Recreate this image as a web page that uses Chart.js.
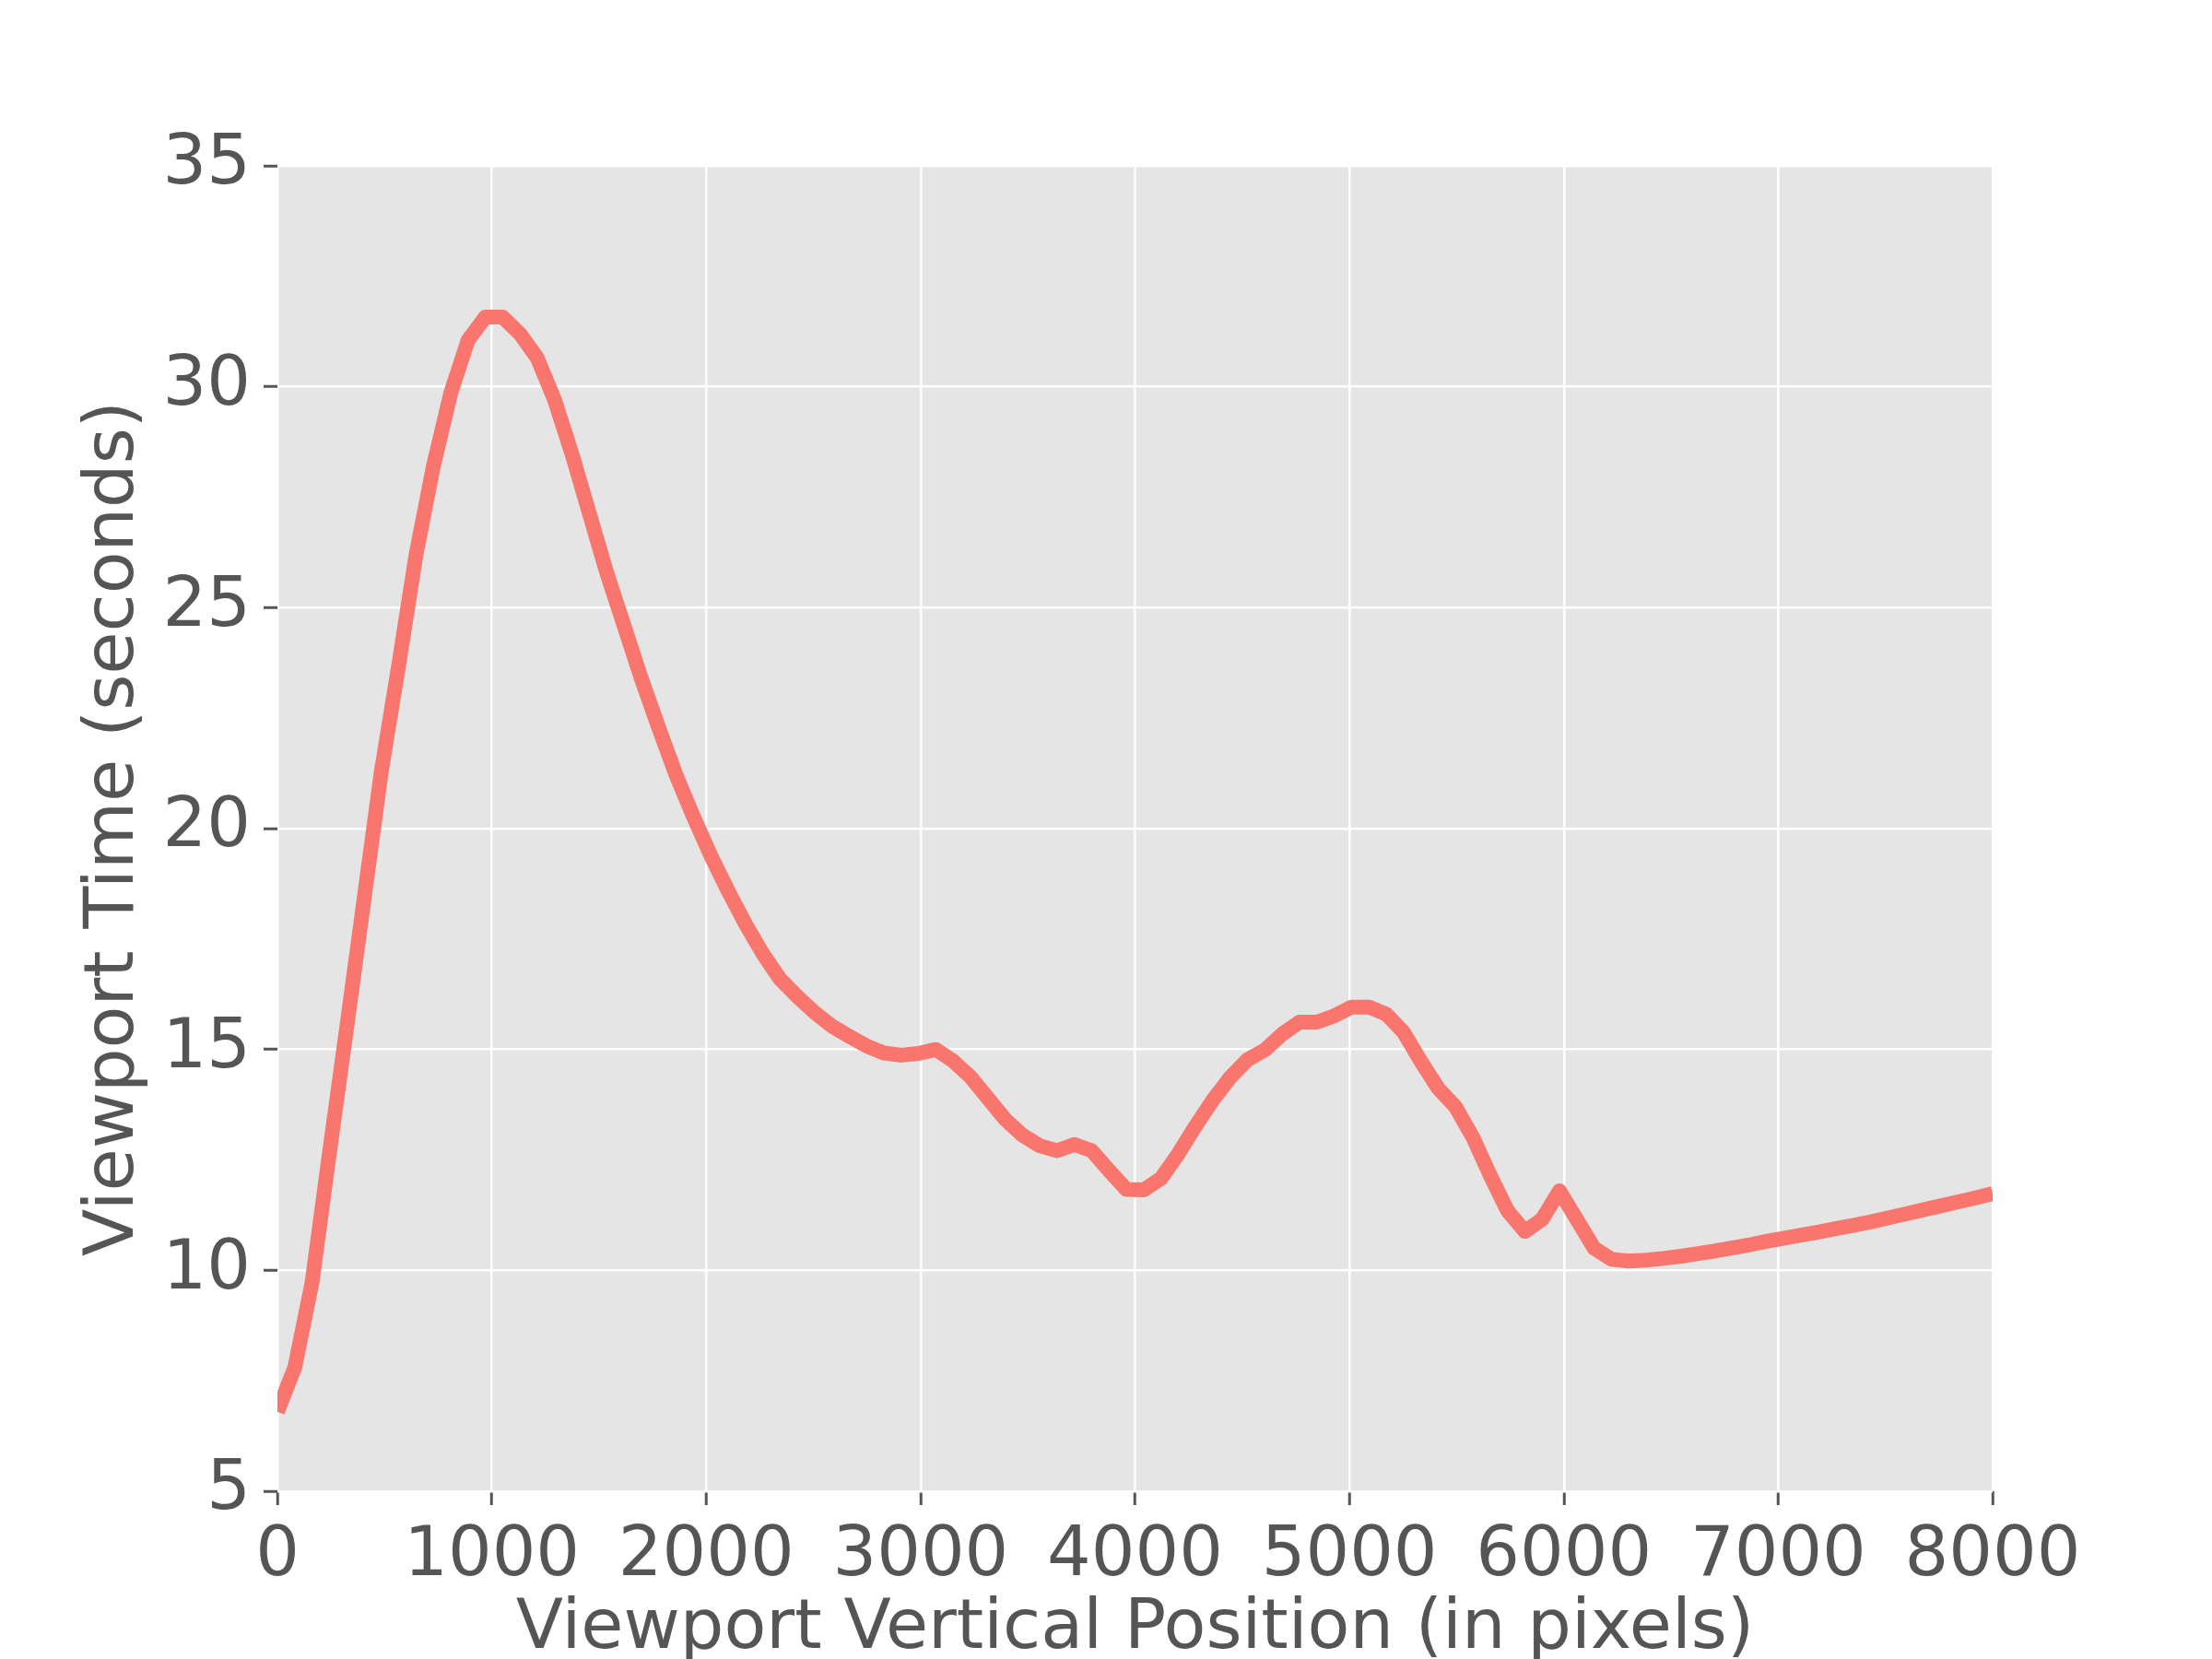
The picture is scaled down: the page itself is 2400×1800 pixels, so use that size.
<!DOCTYPE html>
<html>
<head>
<meta charset="utf-8">
<script src="https://cdn.jsdelivr.net/npm/chart.js@4"></script>
<style>
  html, body { margin: 0; padding: 0; background: #ffffff; }
  #wrap { width: 2400px; height: 1800px; }
</style>
</head>
<body>
<div id="wrap"><canvas id="c" width="2400" height="1800"></canvas></div>
<script>
const positions = [0, 80.8, 161.6, 242.4, 323.2, 404.0, 484.8, 565.7, 646.5, 727.3,
  808.1, 888.9, 969.7, 1050.5, 1131.3, 1212.1, 1292.9, 1373.7, 1454.5, 1535.4,
  1616.2, 1697.0, 1777.8, 1858.6, 1939.4, 2020.2, 2101.0, 2181.8, 2262.6, 2343.4,
  2424.2, 2505.1, 2585.9, 2666.7, 2747.5, 2828.3, 2909.1, 2989.9, 3070.7, 3151.5,
  3232.3, 3313.1, 3393.9, 3474.7, 3555.6, 3636.4, 3717.2, 3798.0, 3878.8, 3959.6,
  4040.4, 4121.2, 4202.0, 4282.8, 4363.6, 4444.4, 4525.3, 4606.1, 4686.9, 4767.7,
  4848.5, 4929.3, 5010.1, 5090.9, 5171.7, 5252.5, 5333.3, 5414.1, 5494.9, 5575.8,
  5656.6, 5737.4, 5818.2, 5899.0, 5979.8, 6060.6, 6141.4, 6222.2, 6303.0, 6383.8,
  6464.6, 6545.5, 6626.3, 6707.1, 6787.9, 6868.7, 6949.5, 7030.3, 7111.1, 7191.9,
  7272.7, 7353.5, 7434.3, 7515.2, 7596.0, 7676.8, 7757.6, 7838.4, 7919.2, 8000];

const viewportTime = [6.8, 7.8, 9.73, 12.65, 15.5, 18.4, 21.3, 23.7, 26.2, 28.2,
  29.85, 31.05, 31.58, 31.58, 31.2, 30.65, 29.7, 28.48, 27.14, 25.8,
  24.6, 23.4, 22.29, 21.22, 20.28, 19.4, 18.6, 17.85, 17.18, 16.6,
  16.2, 15.84, 15.53, 15.3, 15.08, 14.92, 14.87, 14.91, 15.0, 14.74,
  14.38, 13.9, 13.42, 13.06, 12.82, 12.71, 12.85, 12.71, 12.26, 11.83,
  11.82, 12.08, 12.64, 13.27, 13.86, 14.37, 14.77, 14.99, 15.35, 15.62,
  15.62, 15.76, 15.96, 15.96, 15.8, 15.39, 14.73, 14.12, 13.7, 13.01,
  12.15, 11.35, 10.88, 11.16, 11.8, 11.15, 10.5, 10.25, 10.21, 10.23,
  10.27, 10.32, 10.38, 10.44, 10.51, 10.58, 10.66, 10.73, 10.8, 10.87,
  10.95, 11.02, 11.1, 11.19, 11.28, 11.37, 11.46, 11.55, 11.64, 11.74];

const xTitle = 'Viewport Vertical Position (in pixels)';
const yTitle = 'Viewport Time (seconds)';
const xMin = 0, xMax = 8000, xStep = 1000;
const yMin = 5, yMax = 35, yStep = 5;

const points = positions.map((x, i) => ({ x: x, y: viewportTime[i] }));

const TEXT = '#555555';
const FONT = 'DejaVu Sans';

const plotBg = {
  id: 'plotBg',
  beforeDraw(chart) {
    const { ctx, chartArea: a } = chart;
    ctx.save();
    ctx.fillStyle = '#ffffff';
    ctx.fillRect(0, 0, chart.width, chart.height);
    ctx.fillStyle = '#E5E5E5';
    ctx.fillRect(a.left, a.top, a.right - a.left, a.bottom - a.top);
    ctx.restore();
  }
};

new Chart(document.getElementById('c'), {
  type: 'line',
  data: {
    datasets: [{
      data: points,
      borderColor: '#F8766D',
      borderWidth: 16,
      borderJoinStyle: 'round',
      borderCapStyle: 'butt',
      pointRadius: 0,
      tension: 0,
      fill: false,
      clip: 0
    }]
  },
  options: {
    responsive: false,
    animation: false,
    devicePixelRatio: 1,
    layout: { padding: { top: 180, right: 238, left: 0, bottom: 0 } },
    plugins: { legend: { display: false }, tooltip: { enabled: false }, title: { display: false } },
    scales: {
      x: {
        type: 'linear',
        min: xMin, max: xMax,
        afterFit(scale) { scale.height = 182; },
        ticks: { stepSize: xStep, color: TEXT, font: { family: FONT, size: 75, lineHeight: 1.2 }, padding: 12, maxRotation: 0, autoSkip: false,
                 callback: (v) => String(v) },
        grid: { color: '#ffffff', lineWidth: 2.5, tickColor: TEXT, tickWidth: 3, tickLength: 15, drawTicks: true },
        border: { display: false },
        title: { display: true, text: xTitle, color: TEXT, font: { family: FONT, size: 75, lineHeight: 0.85 }, padding: { top: 0, bottom: 0 } }
      },
      y: {
        type: 'linear',
        min: yMin, max: yMax,
        afterFit(scale) { scale.width = 301; },
        ticks: { stepSize: yStep, color: TEXT, font: { family: FONT, size: 75, lineHeight: 1.2 }, padding: 14, autoSkip: false,
                 callback: (v) => String(v) },
        grid: { color: '#ffffff', lineWidth: 2.5, tickColor: TEXT, tickWidth: 3, tickLength: 15, drawTicks: true },
        border: { display: false },
        title: { display: true, text: yTitle, color: TEXT, font: { family: FONT, size: 75, lineHeight: 1 }, padding: { top: 87, bottom: 0 } }
      }
    }
  },
  plugins: [plotBg]
});
</script>
</body>
</html>
